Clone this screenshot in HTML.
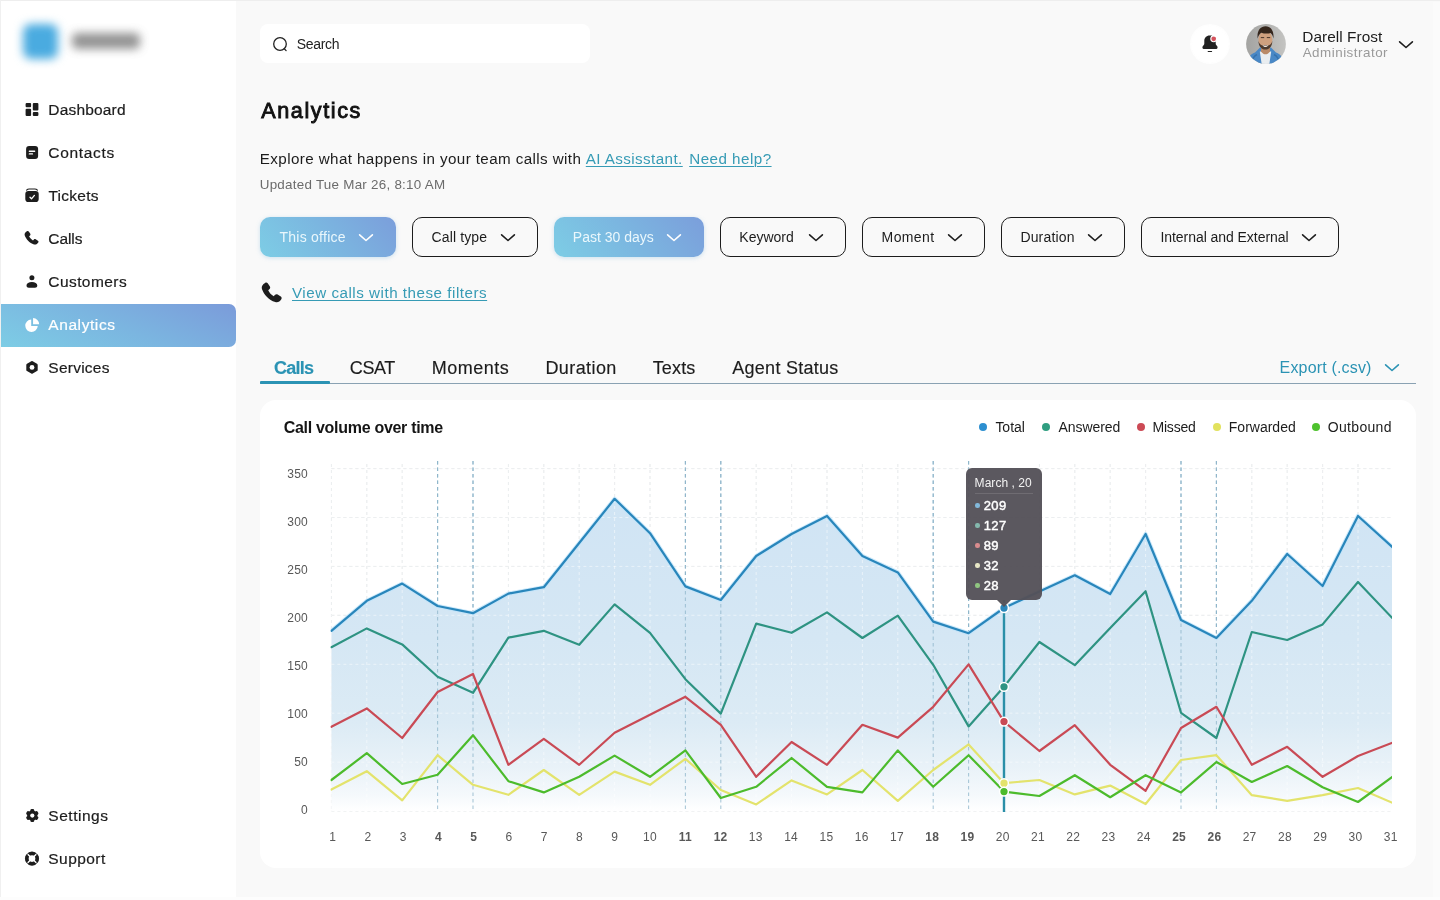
<!DOCTYPE html>
<html>
<head>
<meta charset="utf-8">
<style>
*{box-sizing:border-box;margin:0;padding:0}
html,body{width:1440px;height:900px;overflow:hidden}
body{background:#f9f9f9;font-family:"Liberation Sans",sans-serif;color:#1b1b1b;position:relative}
#root{position:absolute;left:0;top:0;width:1440px;height:900px;will-change:transform}
.abs{position:absolute;white-space:nowrap}
.sidebar{position:absolute;left:0;top:0;width:236px;height:900px;background:#fff}
.nav{position:absolute;left:0;width:236px;height:43px}
.nav .ic{position:absolute;left:23px;top:13px;width:17px;height:17px}
.nav .tx{-webkit-text-stroke:.2px currentColor;position:absolute;left:48px;top:12px;font-size:15.5px;line-height:20px;color:#1c1c1c;white-space:nowrap}
.nav.active{background:linear-gradient(22deg,#7dcde5 0%,#7bb5e0 50%,#7b9bda 100%);border-radius:0 7px 7px 0}
.nav.active .tx{color:#fff;top:11px}.nav.active .ic{top:12px}
.search{position:absolute;left:260px;top:24px;width:330px;height:39px;background:#fff;border-radius:8px}
.search .tx{position:absolute;left:36.5px;top:11.5px;font-size:14px;line-height:17px;color:#222}
.btn{position:absolute;top:217px;height:40px;border-radius:10px;border:1.6px solid #1d1d1d;font-size:14px;line-height:17px;color:#1c1c1c;white-space:nowrap}
.btn .tx{position:absolute;left:18.7px;top:11px}
.btn svg{position:absolute;right:20.8px;top:14px}
.btn.fill{border:none;background:linear-gradient(50deg,#7dcde5 0%,#7bb6e0 50%,#7b9edb 100%);color:#eaf7fc;box-shadow:0 1px 4px rgba(120,180,220,.35)}
.btn.fill .tx{left:20px;top:11.5px}.btn.fill svg{right:22.4px;top:15.3px}
a.lk{color:#369bb5;text-decoration:underline;text-decoration-thickness:1.2px;text-underline-offset:2px}
.tab{-webkit-text-stroke:.15px currentColor;position:absolute;top:357px;font-size:18px;line-height:22px;color:#1c1c1c;white-space:nowrap}
.card{position:absolute;left:260px;top:400px;width:1156px;height:468px;background:#fff;border-radius:16px}
.chart{position:absolute;left:0;top:0}
.ax{font-family:"Liberation Sans",sans-serif;font-size:12px;fill:#585858;letter-spacing:.25px}
.lg{position:absolute;top:419px;font-size:14px;line-height:17px;color:#1c1c1c;white-space:nowrap}
.dot{position:absolute;top:423px;width:8px;height:8px;border-radius:50%}
.tip{position:absolute;left:965.6px;top:468px;width:76.8px;height:131.5px;background:rgba(84,81,88,.96);border-radius:6px;color:#fff}
.tip .t{position:absolute;left:9.4px;top:8.2px;font-size:12px;line-height:14px;color:#f3f3f3;white-space:nowrap}
.tip .sep{position:absolute;left:9.5px;right:9.5px;top:24.6px;height:1px;background:rgba(255,255,255,.12)}
.tip .v{position:absolute;left:18.2px;font-size:13px;line-height:15px;font-weight:400;-webkit-text-stroke:.45px #fff;color:#fff;letter-spacing:.35px}
.tip .d{position:absolute;left:9.6px;width:4.4px;height:4.4px;border-radius:50%}
.tip:after{content:"";position:absolute;left:31.4px;top:131.5px;border-left:7px solid transparent;border-right:7px solid transparent;border-top:7px solid rgba(84,81,88,.96)}
#nDashboard{letter-spacing:0.175px;margin-left:0.3px}
#nContacts{letter-spacing:0.673px;margin-left:0.3px}
#nTickets{letter-spacing:0.282px;margin-left:0.4px}
#nCalls{letter-spacing:-0.075px;margin-left:0.3px}
#nCustomers{letter-spacing:0.425px;margin-left:0.3px}
#nAnalytics{letter-spacing:0.583px;margin-left:0.3px}
#nServices{letter-spacing:0.244px;margin-left:0.3px}
#nSettings{letter-spacing:0.53px;margin-left:0.3px}
#nSupport{letter-spacing:0.45px;margin-left:0.3px}
#tSearch{letter-spacing:-0.32px;margin-left:0.3px}
#tName{letter-spacing:0.039px;margin-left:0.3px}
#tAdmin{letter-spacing:0.5px;margin-left:0.7px}
#tH{letter-spacing:1.602px;margin-left:1.2px}
#tExp{letter-spacing:0.4px;margin-left:-0.2px}
#tAI{letter-spacing:0.414px;margin-left:0.4px}
#tHelp{letter-spacing:0.466px;margin-left:-0.4px}
#tUpd{letter-spacing:0.259px;margin-left:-0.3px}
#b0{letter-spacing:0.25px;margin-left:-0.5px}
#b1{letter-spacing:0.125px;margin-left:-0.1px}
#b2{letter-spacing:-0.001px;margin-left:-1.2px}
#b3{letter-spacing:0.001px;margin-left:-0.4px}
#b4{letter-spacing:0.38px;margin-left:-0.1px}
#b5{letter-spacing:0.16px;margin-left:-0.3px}
#b6{letter-spacing:-0.05px;margin-left:-0.3px}
#tView{letter-spacing:0.509px;margin-left:0.0px}
#tab0{letter-spacing:-0.75px;margin-left:0.0px}
#tab1{letter-spacing:-0.4px;margin-left:-0.2px}
#tab2{letter-spacing:0.501px;margin-left:-1.3px}
#tab3{letter-spacing:0.412px;margin-left:-0.6px}
#tab4{letter-spacing:0.15px;margin-left:0.7px}
#tab5{letter-spacing:0.263px;margin-left:1.3px}
#tExport{letter-spacing:0.167px;margin-left:-0.4px}
#tCard{letter-spacing:-0.295px;margin-left:-0.3px}
#lg0{letter-spacing:-0.025px;margin-left:0.4px}
#lg1{letter-spacing:-0.071px;margin-left:0.6px}
#lg2{letter-spacing:-0.2px;margin-left:-0.5px}
#lg3{letter-spacing:0.0px;margin-left:-0.2px}
#lg4{letter-spacing:0.311px;margin-left:-0.2px}
#tTip{letter-spacing:0.042px;margin-left:-0.4px}

</style>
</head>
<body>
<div id="root">
<div class="sidebar">
  <!-- blurred logo -->
  <div class="abs" style="left:23px;top:23.5px;width:35px;height:35px;border-radius:8px;background:#4aabe0;filter:blur(4.6px)"></div>
  <div class="abs" style="left:72px;top:33px;width:68px;height:16px;border-radius:5px;background:#787878;filter:blur(5px);opacity:.8"></div>

  <div class="nav" style="top:88px"><svg class="ic" viewBox="0 0 17 17"><g fill="#1d1d1d"><rect x="2.600" y="2.100" width="5.500" height="4.100" rx="1"/><rect x="2.600" y="7.700" width="5.500" height="7.300" rx="1"/><rect x="9.800" y="2.100" width="5.600" height="7.500" rx="1"/><rect x="9.800" y="11" width="5.600" height="4" rx="1"/></g></svg><div class="tx" id="nDashboard">Dashboard</div></div>
  <div class="nav" style="top:131px"><svg class="ic" viewBox="0 0 17 17"><rect x="3.100" y="2" width="12" height="13" rx="3" fill="#1d1d1d"/><rect x="5.700" y="6.600" width="6.600" height="1.300" rx=".6" fill="#fff"/><rect x="5.700" y="9.300" width="4.400" height="1.300" rx=".6" fill="#fff"/></svg><div class="tx" id="nContacts">Contacts</div></div>
  <div class="nav" style="top:174px"><svg class="ic" viewBox="0 0 17 17"><path d="M3.600 3.100c.700-.800 1.600-1.100 2.600-1.100h5.600c1 0 1.900.300 2.600 1.100" fill="none" stroke="#1d1d1d" stroke-width="1.100" stroke-linecap="round"/><rect x="2.300" y="4" width="13.400" height="11" rx="3.100" fill="#1d1d1d"/><path d="M7 10.200l1.500 1.600 2.900-3.400" stroke="#fff" stroke-width="1.300" fill="none" stroke-linecap="round" stroke-linejoin="round"/></svg><div class="tx" id="nTickets">Tickets</div></div>
  <div class="nav" style="top:217px"><svg class="ic" viewBox="0 0 17 17"><g transform="translate(8.700 8.300) scale(1.170) translate(-8.300 -8.300)"><path d="M4.200 2.300c.500-.400 1.200-.300 1.600.200l1.300 1.900c.300.500.200 1.100-.200 1.500l-.800.700c.700 1.500 1.800 2.700 3.300 3.500l.800-.800c.400-.400 1-.500 1.500-.200l1.900 1.200c.500.300.700 1 .300 1.600-.800 1.300-2.200 2.100-3.600 1.600C6.400 12.300 3.400 9 2.300 5.700c-.400-1.400.600-2.700 1.900-3.400z" fill="#1d1d1d"/></g></svg><div class="tx" id="nCalls">Calls</div></div>
  <div class="nav" style="top:260px"><svg class="ic" viewBox="0 0 17 17"><circle cx="8.900" cy="4.800" r="2.500" fill="#1d1d1d"/><path d="M3.500 12.400c0-2.200 2.300-3.500 5.400-3.500s5.400 1.300 5.400 3.500c0 1.300-1 2.300-2.300 2.300H5.800c-1.300 0-2.300-1-2.300-2.300z" fill="#1d1d1d"/></svg><div class="tx" id="nCustomers">Customers</div></div>
  <div class="nav active" style="top:304px"><svg class="ic" viewBox="0 0 17 17"><g transform="translate(.4 .2) scale(1.040)"><path d="M7.500 3.200A6 6 0 1 0 13.800 9.500H7.500z" fill="#fff"/><path d="M9.300 1.800a6 6 0 0 1 5.900 5.900H9.300z" fill="#fff"/></g></svg><div class="tx" id="nAnalytics">Analytics</div></div>
  <div class="nav" style="top:346px"><svg class="ic" viewBox="0 0 17 17"><path d="M9 3.400l4.300 2.500v5l-4.300 2.500-4.300-2.500v-5z" fill="#1d1d1d" stroke="#1d1d1d" stroke-width="2.800" stroke-linejoin="round"/><circle cx="9" cy="8.400" r="2.400" fill="#fff"/></svg><div class="tx" id="nServices">Services</div></div>

  <div class="nav" style="top:794px"><svg class="ic" viewBox="0 0 17 17"><g transform="translate(9.300 8.600)" fill="#1d1d1d"><circle r="5.100"/><rect x="-1.900" y="-6.500" width="3.800" height="13" rx="1.300" transform="rotate(0)"/><rect x="-1.900" y="-6.500" width="3.800" height="13" rx="1.300" transform="rotate(60)"/><rect x="-1.900" y="-6.500" width="3.800" height="13" rx="1.300" transform="rotate(120)"/><circle r="2.100" fill="#fff"/></g></svg><div class="tx" id="nSettings">Settings</div></div>
  <div class="nav" style="top:837px"><svg class="ic" viewBox="0 0 17 17"><g transform="translate(9 8.600)"><circle r="6.900" fill="#1d1d1d"/><g stroke="#fff" stroke-width="1.400"><path d="M-5.500-5.500L5.500 5.500M5.500-5.500L-5.500 5.500"/></g><circle r="3.300" fill="#fff"/><circle r="6.550" fill="none" stroke="#1d1d1d" stroke-width=".8"/></g></svg><div class="tx" id="nSupport">Support</div></div>
</div>

<div class="abs" style="left:0;top:0;width:1440px;height:1px;background:#eeeeee"></div>
<div class="abs" style="left:0;top:0;width:1px;height:900px;background:#f0f0f0"></div>
<div class="abs" style="left:1433px;top:2px;width:7px;height:898px;background:#fbfbfb"></div>
<div class="abs" style="left:0;top:897px;width:1440px;height:3px;background:#fdfdfd"></div>
<!-- top bar -->
<div class="search"><svg class="abs" style="left:12px;top:12px" width="17" height="17" viewBox="0 0 17 17"><circle cx="8" cy="8" r="6.300" fill="none" stroke="#222" stroke-width="1.300"/><path d="M12.300 12.800l1.800 1.800" stroke="#222" stroke-width="1.300" stroke-linecap="round"/></svg><div class="tx" id="tSearch">Search</div></div>

<div class="abs" style="left:1190px;top:24px;width:40px;height:40px;border-radius:50%;background:radial-gradient(circle,#fff 0,#fff 60%,rgba(255,255,255,0) 100%)"></div>
<svg class="abs" style="left:1200px;top:33px" width="20" height="20" viewBox="0 0 20 20"><path d="M9.600 2.600c-3.200 0-5.300 2.400-5.300 5.500v2.500c0 .9-.5 1.700-1.300 2.300-1.100.8-.6 3.100.8 3.100h12.400c1.400 0 1.900-2.300.8-3.100-.8-.6-1.300-1.400-1.300-2.300V8.100c0-3.100-2.100-5.500-5.300-5.500z" fill="#222"/><path d="M8.200 18.500h3.400" stroke="#222" stroke-width="1.100" stroke-linecap="round"/><circle cx="13.700" cy="5.800" r="2.900" fill="#d4525c" stroke="#fff" stroke-width="1.100"/></svg>

<!-- avatar -->
<svg class="abs" style="left:1246px;top:24px" width="40" height="40" viewBox="0 0 40 40"><defs><clipPath id="av"><circle cx="20" cy="20" r="19.900"/></clipPath><linearGradient id="avb" x1="0" y1="0" x2="1" y2="0"><stop offset="0" stop-color="#a3a3a1"/><stop offset=".55" stop-color="#b4b4b2"/><stop offset="1" stop-color="#c4c4c2"/></linearGradient><filter id="avf" x="-10%" y="-10%" width="120%" height="120%"><feGaussianBlur stdDeviation=".55"/></filter></defs><g clip-path="url(#av)"><rect width="40" height="40" fill="url(#avb)"/><g filter="url(#avf)"><path d="M1 41c0-7 3-10.500 8-12.500l5-5h11l5 5c5 2 8 5.500 8 12.500z" fill="#4a88c6"/><path d="M5 40c1-5 3-8 6-9.500M34 40c-1-5-3-8-6-9.500" stroke="#3672ad" stroke-width="1.500" fill="none"/><path d="M13.800 27.500l2 13.500h7.400l2-13.500z" fill="#e9edf0"/><path d="M15 21h9v6.500c-1.500 2-3 2.800-4.500 2.800S16.500 29.500 15 27.500z" fill="#b98a68"/><ellipse cx="19.400" cy="15.600" rx="7" ry="8.800" fill="#cfa07e"/><path d="M12.400 17c.300 5.500 3 8.600 7 8.600s6.700-3.100 7-8.600c-1 3-2.500 4.200-4 4.500-2-.6-4-.6-6 0-1.500-.3-3-1.500-4-4.500z" fill="#4f3a2d"/><path d="M16.600 20.900c1.800.8 3.800.8 5.600 0-.5 1.500-1.600 2.100-2.800 2.100s-2.300-.6-2.800-2.100z" fill="#efe6df"/><path d="M11.600 14.500C10.800 6.500 14.500 2.300 19.600 2.300s8.600 4.200 7.800 12.200c-.6-3-1.500-4.600-2.800-5.600-2.200.9-6 .9-9.400-.2-1.600 1-2.800 2.800-3.600 5.800z" fill="#35271f"/><path d="M14.800 13.600h3.400M20.800 13.600h3.400" stroke="#3a2a20" stroke-width=".9"/></g></g></svg>

<div class="abs" id="tName" style="left:1302px;top:26.6px;font-size:15.4px;line-height:19px;color:#1c1c1c">Darell Frost</div>
<div class="abs" id="tAdmin" style="left:1302px;top:43.7px;font-size:13.4px;line-height:17px;color:#9a9a9a">Administrator</div>
<svg class="abs" style="left:1398px;top:38.6px" width="16" height="12" viewBox="0 0 16 12"><path d="M1.600 2.800L8 8.500l6.400-5.700" fill="none" stroke="#1d1d1d" stroke-width="1.600" stroke-linecap="round" stroke-linejoin="round"/></svg>

<!-- heading -->
<div class="abs" id="tH" style="left:260px;top:96.4px;font-size:21.6px;line-height:30px;font-weight:400;-webkit-text-stroke:.9px #111;color:#111">Analytics</div>
<div class="abs" id="tExp" style="font-size:15.2px;margin-top:-.8px;left:260px;top:149.5px;line-height:20px;color:#1c1c1c">Explore what happens in your team calls with</div><div class="abs" id="tAI" style="font-size:15.2px;margin-top:-.8px;left:585.4px;top:149.5px;line-height:20px"><a class="lk">AI Assisstant.</a></div><div class="abs" id="tHelp" style="font-size:15.2px;margin-top:-.8px;left:689.6px;top:149.5px;line-height:20px"><a class="lk">Need help?</a></div>
<div class="abs" id="tUpd" style="left:260px;top:176px;font-size:13.4px;line-height:17px;color:#6b6b6b">Updated Tue Mar 26, 8:10 AM</div>

<!-- filters -->
<div class="btn fill" style="left:260px;width:136px"><div class="tx" id="b0">This office</div><svg width="16" height="12" viewBox="0 0 16 12"><path d="M1.600 2.800L8 8.500l6.400-5.700" fill="none" stroke="#fff" stroke-width="1.600" stroke-linecap="round" stroke-linejoin="round"/></svg></div>
<div class="btn" style="left:412px;width:126px"><div class="tx" id="b1">Call type</div><svg width="16" height="12" viewBox="0 0 16 12"><path d="M1.600 2.800L8 8.500l6.400-5.700" fill="none" stroke="#1d1d1d" stroke-width="1.600" stroke-linecap="round" stroke-linejoin="round"/></svg></div>
<div class="btn fill" style="left:554px;width:150px"><div class="tx" id="b2">Past 30 days</div><svg width="16" height="12" viewBox="0 0 16 12"><path d="M1.600 2.800L8 8.500l6.400-5.700" fill="none" stroke="#fff" stroke-width="1.600" stroke-linecap="round" stroke-linejoin="round"/></svg></div>
<div class="btn" style="left:720px;width:126px"><div class="tx" id="b3">Keyword</div><svg width="16" height="12" viewBox="0 0 16 12"><path d="M1.600 2.800L8 8.500l6.400-5.700" fill="none" stroke="#1d1d1d" stroke-width="1.600" stroke-linecap="round" stroke-linejoin="round"/></svg></div>
<div class="btn" style="left:862px;width:123px"><div class="tx" id="b4">Moment</div><svg width="16" height="12" viewBox="0 0 16 12"><path d="M1.600 2.800L8 8.500l6.400-5.700" fill="none" stroke="#1d1d1d" stroke-width="1.600" stroke-linecap="round" stroke-linejoin="round"/></svg></div>
<div class="btn" style="left:1001px;width:124px"><div class="tx" id="b5">Duration</div><svg width="16" height="12" viewBox="0 0 16 12"><path d="M1.600 2.800L8 8.500l6.400-5.700" fill="none" stroke="#1d1d1d" stroke-width="1.600" stroke-linecap="round" stroke-linejoin="round"/></svg></div>
<div class="btn" style="left:1141px;width:198px"><div class="tx" id="b6">Internal and External</div><svg width="16" height="12" viewBox="0 0 16 12"><path d="M1.600 2.800L8 8.500l6.400-5.700" fill="none" stroke="#1d1d1d" stroke-width="1.600" stroke-linecap="round" stroke-linejoin="round"/></svg></div>

<!-- view calls -->
<svg class="abs" style="left:258.4px;top:278.8px" width="28.5" height="29" viewBox="0 0 17 17" preserveAspectRatio="none"><path d="M4.200 2.300c.500-.400 1.200-.300 1.600.200l1.300 1.900c.300.500.200 1.100-.200 1.500l-.800.700c.700 1.500 1.800 2.700 3.300 3.500l.800-.800c.400-.400 1-.500 1.500-.200l1.900 1.200c.500.300.700 1 .300 1.600-.800 1.300-2.200 2.100-3.600 1.600C6.400 12.300 3.400 9 2.300 5.700c-.400-1.400.600-2.700 1.900-3.400z" fill="#1d1d1d"/></svg>
<div class="abs" id="tView" style="left:292px;top:283.3px;font-size:15.2px;line-height:20px"><a class="lk">View calls with these filters</a></div>

<!-- tabs -->
<div class="tab" id="tab0" style="left:274px;font-weight:700;color:#2b93b4">Calls</div>
<div class="tab" id="tab1" style="left:350px">CSAT</div>
<div class="tab" id="tab2" style="left:433px">Moments</div>
<div class="tab" id="tab3" style="left:546px">Duration</div>
<div class="tab" id="tab4" style="left:652px">Texts</div>
<div class="tab" id="tab5" style="left:731px">Agent Status</div>
<div class="abs" style="left:260px;top:383px;width:1156px;height:1px;background:#8aa2b3"></div>
<div class="abs" style="left:260px;top:380.5px;width:70px;height:3.5px;background:#2b93b4;border-radius:1px"></div>
<div class="abs" id="tExport" style="left:1280px;top:358px;font-size:16px;line-height:20px;color:#2b93b4">Export (.csv)</div>
<svg class="abs" style="left:1384px;top:362px" width="16" height="12" viewBox="0 0 16 12"><path d="M1.600 2.800L8 8.500l6.400-5.700" fill="none" stroke="#2b93b4" stroke-width="1.600" stroke-linecap="round" stroke-linejoin="round"/></svg>

<!-- card -->
<div class="card"></div>
<div class="abs" id="tCard" style="left:284px;top:418px;font-size:16px;line-height:20px;font-weight:700;color:#151515">Call volume over time</div>

<div class="dot" style="left:979px;background:#2d8fd0"></div><div class="lg" id="lg0" style="left:995px">Total</div>
<div class="dot" style="left:1042px;background:#2f9e80"></div><div class="lg" id="lg1" style="left:1058px">Answered</div>
<div class="dot" style="left:1137px;background:#cc4a55"></div><div class="lg" id="lg2" style="left:1153px">Missed</div>
<div class="dot" style="left:1213px;background:#e2e25e"></div><div class="lg" id="lg3" style="left:1229px">Forwarded</div>
<div class="dot" style="left:1312px;background:#4ec22e"></div><div class="lg" id="lg4" style="left:1328px">Outbound</div>

<svg class="chart" width="1440" height="900" viewBox="0 0 1440 900">
<defs><linearGradient id="ag" x1="0" y1="0" x2="0" y2="1" gradientUnits="userSpaceOnUse" gradientTransform="translate(0,498) scale(1,313)"><stop offset="0" stop-color="#d0e4f4"/><stop offset="0.45" stop-color="#d5e7f4"/><stop offset="0.72" stop-color="#dcebf5"/><stop offset="0.86" stop-color="#e9f2f8"/><stop offset="0.95" stop-color="#f5f9fc"/><stop offset="1" stop-color="#ffffff"/></linearGradient></defs>
<clipPath id="cp"><rect x="330.4" y="455" width="1061.6" height="360"/></clipPath>
<g clip-path="url(#cp)">
<line x1="331.4" x2="1392" y1="468.6" y2="468.6" stroke="#d4d9dc" stroke-width="1" stroke-dasharray="3 3" opacity="0.85"/>
<line x1="331.4" x2="1392" y1="517.5" y2="517.5" stroke="#d4d9dc" stroke-width="1" stroke-dasharray="3 3" opacity="0.85"/>
<line x1="331.4" x2="1392" y1="566.4" y2="566.4" stroke="#d4d9dc" stroke-width="1" stroke-dasharray="3 3" opacity="0.85"/>
<line x1="331.4" x2="1392" y1="615.3" y2="615.3" stroke="#d4d9dc" stroke-width="1" stroke-dasharray="3 3" opacity="0.85"/>
<line x1="331.4" x2="1392" y1="664.3" y2="664.3" stroke="#d4d9dc" stroke-width="1" stroke-dasharray="3 3" opacity="0.85"/>
<line x1="331.4" x2="1392" y1="713.2" y2="713.2" stroke="#d4d9dc" stroke-width="1" stroke-dasharray="3 3" opacity="0.85"/>
<line x1="331.4" x2="1392" y1="762.1" y2="762.1" stroke="#d4d9dc" stroke-width="1" stroke-dasharray="3 3" opacity="0.85"/>
<line x1="331.4" x2="1392" y1="811.0" y2="811.0" stroke="#d4d9dc" stroke-width="1" stroke-dasharray="3 3" opacity="0.85"/>
<line x1="331.4" x2="331.4" y1="464" y2="811" stroke="#d4d9dc" stroke-width="1" stroke-dasharray="3 3" opacity="0.85"/>
<line x1="366.8" x2="366.8" y1="464" y2="811" stroke="#d4d9dc" stroke-width="1" stroke-dasharray="3 3" opacity="0.85"/>
<line x1="402.2" x2="402.2" y1="464" y2="811" stroke="#d4d9dc" stroke-width="1" stroke-dasharray="3 3" opacity="0.85"/>
<line x1="437.6" x2="437.6" y1="461" y2="812" stroke="#8fb6cb" stroke-width="1.1" stroke-dasharray="3.5 3" opacity="1"/>
<line x1="473.0" x2="473.0" y1="461" y2="812" stroke="#8fb6cb" stroke-width="1.1" stroke-dasharray="3.5 3" opacity="1"/>
<line x1="508.4" x2="508.4" y1="464" y2="811" stroke="#d4d9dc" stroke-width="1" stroke-dasharray="3 3" opacity="0.85"/>
<line x1="543.8" x2="543.8" y1="464" y2="811" stroke="#d4d9dc" stroke-width="1" stroke-dasharray="3 3" opacity="0.85"/>
<line x1="579.2" x2="579.2" y1="464" y2="811" stroke="#d4d9dc" stroke-width="1" stroke-dasharray="3 3" opacity="0.85"/>
<line x1="614.6" x2="614.6" y1="464" y2="811" stroke="#d4d9dc" stroke-width="1" stroke-dasharray="3 3" opacity="0.85"/>
<line x1="650.0" x2="650.0" y1="464" y2="811" stroke="#d4d9dc" stroke-width="1" stroke-dasharray="3 3" opacity="0.85"/>
<line x1="685.4" x2="685.4" y1="461" y2="812" stroke="#8fb6cb" stroke-width="1.1" stroke-dasharray="3.5 3" opacity="1"/>
<line x1="720.8" x2="720.8" y1="461" y2="812" stroke="#8fb6cb" stroke-width="1.1" stroke-dasharray="3.5 3" opacity="1"/>
<line x1="756.2" x2="756.2" y1="464" y2="811" stroke="#d4d9dc" stroke-width="1" stroke-dasharray="3 3" opacity="0.85"/>
<line x1="791.6" x2="791.6" y1="464" y2="811" stroke="#d4d9dc" stroke-width="1" stroke-dasharray="3 3" opacity="0.85"/>
<line x1="827.0" x2="827.0" y1="464" y2="811" stroke="#d4d9dc" stroke-width="1" stroke-dasharray="3 3" opacity="0.85"/>
<line x1="862.4" x2="862.4" y1="464" y2="811" stroke="#d4d9dc" stroke-width="1" stroke-dasharray="3 3" opacity="0.85"/>
<line x1="897.8" x2="897.8" y1="464" y2="811" stroke="#d4d9dc" stroke-width="1" stroke-dasharray="3 3" opacity="0.85"/>
<line x1="933.2" x2="933.2" y1="461" y2="812" stroke="#8fb6cb" stroke-width="1.1" stroke-dasharray="3.5 3" opacity="1"/>
<line x1="968.6" x2="968.6" y1="461" y2="812" stroke="#8fb6cb" stroke-width="1.1" stroke-dasharray="3.5 3" opacity="1"/>
<line x1="1039.4" x2="1039.4" y1="464" y2="811" stroke="#d4d9dc" stroke-width="1" stroke-dasharray="3 3" opacity="0.85"/>
<line x1="1074.8" x2="1074.8" y1="464" y2="811" stroke="#d4d9dc" stroke-width="1" stroke-dasharray="3 3" opacity="0.85"/>
<line x1="1110.2" x2="1110.2" y1="464" y2="811" stroke="#d4d9dc" stroke-width="1" stroke-dasharray="3 3" opacity="0.85"/>
<line x1="1145.6" x2="1145.6" y1="464" y2="811" stroke="#d4d9dc" stroke-width="1" stroke-dasharray="3 3" opacity="0.85"/>
<line x1="1181.0" x2="1181.0" y1="461" y2="812" stroke="#8fb6cb" stroke-width="1.1" stroke-dasharray="3.5 3" opacity="1"/>
<line x1="1216.4" x2="1216.4" y1="461" y2="812" stroke="#8fb6cb" stroke-width="1.1" stroke-dasharray="3.5 3" opacity="1"/>
<line x1="1251.8" x2="1251.8" y1="464" y2="811" stroke="#d4d9dc" stroke-width="1" stroke-dasharray="3 3" opacity="0.85"/>
<line x1="1287.2" x2="1287.2" y1="464" y2="811" stroke="#d4d9dc" stroke-width="1" stroke-dasharray="3 3" opacity="0.85"/>
<line x1="1322.6" x2="1322.6" y1="464" y2="811" stroke="#d4d9dc" stroke-width="1" stroke-dasharray="3 3" opacity="0.85"/>
<line x1="1358.0" x2="1358.0" y1="464" y2="811" stroke="#d4d9dc" stroke-width="1" stroke-dasharray="3 3" opacity="0.85"/>
<line x1="1393.4" x2="1393.4" y1="464" y2="811" stroke="#d4d9dc" stroke-width="1" stroke-dasharray="3 3" opacity="0.85"/>
<path d="M331.4,811.0 L331.4,630.8 L366.8,600.8 L402.2,583.6 L437.6,606.0 L473.0,613.2 L508.4,593.6 L543.8,587.2 L579.2,543.0 L614.6,498.8 L650.0,533.2 L685.4,586.4 L720.8,600.0 L756.2,556.0 L791.6,534.0 L827.0,516.0 L862.4,556.0 L897.8,572.4 L933.2,621.6 L968.6,633.2 L1004.0,608.0 L1039.4,591.5 L1074.8,575.3 L1110.2,594.0 L1145.6,534.0 L1181.0,620.0 L1216.4,638.0 L1251.8,600.8 L1287.2,554.0 L1322.6,586.0 L1358.0,516.0 L1393.4,548.0 L1393.4,811.0 Z" fill="url(#ag)"/>
<line x1="331.4" x2="1392" y1="468.6" y2="468.6" stroke="#ffffff" stroke-width="1" stroke-dasharray="3 3" opacity="0.5"/>
<line x1="331.4" x2="1392" y1="517.5" y2="517.5" stroke="#ffffff" stroke-width="1" stroke-dasharray="3 3" opacity="0.5"/>
<line x1="331.4" x2="1392" y1="566.4" y2="566.4" stroke="#ffffff" stroke-width="1" stroke-dasharray="3 3" opacity="0.5"/>
<line x1="331.4" x2="1392" y1="615.3" y2="615.3" stroke="#ffffff" stroke-width="1" stroke-dasharray="3 3" opacity="0.5"/>
<line x1="331.4" x2="1392" y1="664.3" y2="664.3" stroke="#ffffff" stroke-width="1" stroke-dasharray="3 3" opacity="0.5"/>
<line x1="331.4" x2="1392" y1="713.2" y2="713.2" stroke="#ffffff" stroke-width="1" stroke-dasharray="3 3" opacity="0.5"/>
<line x1="331.4" x2="1392" y1="762.1" y2="762.1" stroke="#ffffff" stroke-width="1" stroke-dasharray="3 3" opacity="0.5"/>
<line x1="331.4" x2="1392" y1="811.0" y2="811.0" stroke="#ffffff" stroke-width="1" stroke-dasharray="3 3" opacity="0.5"/>
<line x1="331.4" x2="331.4" y1="464" y2="811" stroke="#ffffff" stroke-width="1" stroke-dasharray="3 3" opacity="0.5"/>
<line x1="366.8" x2="366.8" y1="464" y2="811" stroke="#ffffff" stroke-width="1" stroke-dasharray="3 3" opacity="0.5"/>
<line x1="402.2" x2="402.2" y1="464" y2="811" stroke="#ffffff" stroke-width="1" stroke-dasharray="3 3" opacity="0.5"/>
<line x1="437.6" x2="437.6" y1="461" y2="812" stroke="#8fb6cb" stroke-width="1.1" stroke-dasharray="3.5 3" opacity="0.75"/>
<line x1="473.0" x2="473.0" y1="461" y2="812" stroke="#8fb6cb" stroke-width="1.1" stroke-dasharray="3.5 3" opacity="0.75"/>
<line x1="508.4" x2="508.4" y1="464" y2="811" stroke="#ffffff" stroke-width="1" stroke-dasharray="3 3" opacity="0.5"/>
<line x1="543.8" x2="543.8" y1="464" y2="811" stroke="#ffffff" stroke-width="1" stroke-dasharray="3 3" opacity="0.5"/>
<line x1="579.2" x2="579.2" y1="464" y2="811" stroke="#ffffff" stroke-width="1" stroke-dasharray="3 3" opacity="0.5"/>
<line x1="614.6" x2="614.6" y1="464" y2="811" stroke="#ffffff" stroke-width="1" stroke-dasharray="3 3" opacity="0.5"/>
<line x1="650.0" x2="650.0" y1="464" y2="811" stroke="#ffffff" stroke-width="1" stroke-dasharray="3 3" opacity="0.5"/>
<line x1="685.4" x2="685.4" y1="461" y2="812" stroke="#8fb6cb" stroke-width="1.1" stroke-dasharray="3.5 3" opacity="0.75"/>
<line x1="720.8" x2="720.8" y1="461" y2="812" stroke="#8fb6cb" stroke-width="1.1" stroke-dasharray="3.5 3" opacity="0.75"/>
<line x1="756.2" x2="756.2" y1="464" y2="811" stroke="#ffffff" stroke-width="1" stroke-dasharray="3 3" opacity="0.5"/>
<line x1="791.6" x2="791.6" y1="464" y2="811" stroke="#ffffff" stroke-width="1" stroke-dasharray="3 3" opacity="0.5"/>
<line x1="827.0" x2="827.0" y1="464" y2="811" stroke="#ffffff" stroke-width="1" stroke-dasharray="3 3" opacity="0.5"/>
<line x1="862.4" x2="862.4" y1="464" y2="811" stroke="#ffffff" stroke-width="1" stroke-dasharray="3 3" opacity="0.5"/>
<line x1="897.8" x2="897.8" y1="464" y2="811" stroke="#ffffff" stroke-width="1" stroke-dasharray="3 3" opacity="0.5"/>
<line x1="933.2" x2="933.2" y1="461" y2="812" stroke="#8fb6cb" stroke-width="1.1" stroke-dasharray="3.5 3" opacity="0.75"/>
<line x1="968.6" x2="968.6" y1="461" y2="812" stroke="#8fb6cb" stroke-width="1.1" stroke-dasharray="3.5 3" opacity="0.75"/>
<line x1="1039.4" x2="1039.4" y1="464" y2="811" stroke="#ffffff" stroke-width="1" stroke-dasharray="3 3" opacity="0.5"/>
<line x1="1074.8" x2="1074.8" y1="464" y2="811" stroke="#ffffff" stroke-width="1" stroke-dasharray="3 3" opacity="0.5"/>
<line x1="1110.2" x2="1110.2" y1="464" y2="811" stroke="#ffffff" stroke-width="1" stroke-dasharray="3 3" opacity="0.5"/>
<line x1="1145.6" x2="1145.6" y1="464" y2="811" stroke="#ffffff" stroke-width="1" stroke-dasharray="3 3" opacity="0.5"/>
<line x1="1181.0" x2="1181.0" y1="461" y2="812" stroke="#8fb6cb" stroke-width="1.1" stroke-dasharray="3.5 3" opacity="0.75"/>
<line x1="1216.4" x2="1216.4" y1="461" y2="812" stroke="#8fb6cb" stroke-width="1.1" stroke-dasharray="3.5 3" opacity="0.75"/>
<line x1="1251.8" x2="1251.8" y1="464" y2="811" stroke="#ffffff" stroke-width="1" stroke-dasharray="3 3" opacity="0.5"/>
<line x1="1287.2" x2="1287.2" y1="464" y2="811" stroke="#ffffff" stroke-width="1" stroke-dasharray="3 3" opacity="0.5"/>
<line x1="1322.6" x2="1322.6" y1="464" y2="811" stroke="#ffffff" stroke-width="1" stroke-dasharray="3 3" opacity="0.5"/>
<line x1="1358.0" x2="1358.0" y1="464" y2="811" stroke="#ffffff" stroke-width="1" stroke-dasharray="3 3" opacity="0.5"/>
<line x1="1393.4" x2="1393.4" y1="464" y2="811" stroke="#ffffff" stroke-width="1" stroke-dasharray="3 3" opacity="0.5"/>
<line x1="1004.0" x2="1004.0" y1="600" y2="812" stroke="#2a8fa8" stroke-width="2.4"/>
<polyline points="331.4,630.8 366.8,600.8 402.2,583.6 437.6,606.0 473.0,613.2 508.4,593.6 543.8,587.2 579.2,543.0 614.6,498.8 650.0,533.2 685.4,586.4 720.8,600.0 756.2,556.0 791.6,534.0 827.0,516.0 862.4,556.0 897.8,572.4 933.2,621.6 968.6,633.2 1004.0,608.0 1039.4,591.5 1074.8,575.3 1110.2,594.0 1145.6,534.0 1181.0,620.0 1216.4,638.0 1251.8,600.8 1287.2,554.0 1322.6,586.0 1358.0,516.0 1393.4,548.0" fill="none" stroke="#bfe4fa" stroke-width="4.2" stroke-linejoin="round" opacity="0.8"/>
<polyline points="331.4,630.8 366.8,600.8 402.2,583.6 437.6,606.0 473.0,613.2 508.4,593.6 543.8,587.2 579.2,543.0 614.6,498.8 650.0,533.2 685.4,586.4 720.8,600.0 756.2,556.0 791.6,534.0 827.0,516.0 862.4,556.0 897.8,572.4 933.2,621.6 968.6,633.2 1004.0,608.0 1039.4,591.5 1074.8,575.3 1110.2,594.0 1145.6,534.0 1181.0,620.0 1216.4,638.0 1251.8,600.8 1287.2,554.0 1322.6,586.0 1358.0,516.0 1393.4,548.0" fill="none" stroke="#2986bb" stroke-width="2.2" stroke-linejoin="round" stroke-linecap="round"/>
<polyline points="331.4,647.2 366.8,628.4 402.2,644.4 437.6,676.8 473.0,692.8 508.4,637.6 543.8,630.8 579.2,644.8 614.6,604.4 650.0,632.8 685.4,679.2 720.8,713.6 756.2,623.6 791.6,632.8 827.0,612.4 862.4,638.0 897.8,615.6 933.2,664.8 968.6,726.4 1004.0,686.8 1039.4,642.0 1074.8,665.2 1110.2,628.0 1145.6,591.2 1181.0,712.8 1216.4,738.0 1251.8,632.0 1287.2,640.0 1322.6,624.4 1358.0,582.0 1393.4,619.2" fill="none" stroke="#2e9382" stroke-width="2.2" stroke-linejoin="round" stroke-linecap="round"/>
<polyline points="331.4,726.8 366.8,708.4 402.2,738.0 437.6,692.0 473.0,674.0 508.4,764.8 543.8,738.8 579.2,764.8 614.6,732.8 650.0,714.8 685.4,696.8 720.8,724.8 756.2,776.8 791.6,742.0 827.0,764.8 862.4,724.8 897.8,737.6 933.2,706.8 968.6,664.4 1004.0,721.6 1039.4,751.0 1074.8,725.2 1110.2,764.8 1145.6,790.8 1181.0,728.0 1216.4,706.8 1251.8,764.8 1287.2,746.8 1322.6,776.8 1358.0,756.0 1393.4,742.4" fill="none" stroke="#c94a55" stroke-width="2.2" stroke-linejoin="round" stroke-linecap="round"/>
<polyline points="331.4,789.6 366.8,771.2 402.2,800.4 437.6,755.2 473.0,784.8 508.4,794.8 543.8,770.0 579.2,794.8 614.6,771.6 650.0,784.8 685.4,758.8 720.8,790.0 756.2,804.4 791.6,780.4 827.0,794.4 862.4,770.0 897.8,800.8 933.2,770.0 968.6,744.4 1004.0,783.2 1039.4,780.0 1074.8,794.4 1110.2,785.6 1145.6,804.0 1181.0,760.0 1216.4,755.2 1251.8,795.2 1287.2,800.8 1322.6,795.2 1358.0,788.0 1393.4,803.2" fill="none" stroke="#e3e36c" stroke-width="2.2" stroke-linejoin="round" stroke-linecap="round"/>
<polyline points="331.4,780.0 366.8,753.2 402.2,784.0 437.6,774.8 473.0,735.2 508.4,781.2 543.8,792.4 579.2,776.8 614.6,755.6 650.0,776.8 685.4,750.4 720.8,798.0 756.2,786.8 791.6,758.0 827.0,786.8 862.4,792.4 897.8,750.4 933.2,786.8 968.6,755.2 1004.0,791.6 1039.4,796.0 1074.8,775.2 1110.2,797.2 1145.6,775.2 1181.0,792.4 1216.4,762.0 1251.8,782.0 1287.2,766.0 1322.6,787.2 1358.0,802.0 1393.4,776.0" fill="none" stroke="#4cbb2c" stroke-width="2.2" stroke-linejoin="round" stroke-linecap="round"/>
</g>
<circle cx="1004.0" cy="608.0" r="4.4" fill="#2986bb" stroke="#ffffff" stroke-width="1.5"/>
<circle cx="1004.0" cy="686.8" r="4.4" fill="#2e9382" stroke="#ffffff" stroke-width="1.5"/>
<circle cx="1004.0" cy="721.6" r="4.4" fill="#c94a55" stroke="#ffffff" stroke-width="1.5"/>
<circle cx="1004.0" cy="783.2" r="4.4" fill="#e3e36c" stroke="#ffffff" stroke-width="1.5"/>
<circle cx="1004.0" cy="791.6" r="4.4" fill="#4cbb2c" stroke="#ffffff" stroke-width="1.5"/>
<text x="308" y="478" text-anchor="end" class="ax">350</text>
<text x="308" y="526" text-anchor="end" class="ax">300</text>
<text x="308" y="574" text-anchor="end" class="ax">250</text>
<text x="308" y="622" text-anchor="end" class="ax">200</text>
<text x="308" y="670" text-anchor="end" class="ax">150</text>
<text x="308" y="718" text-anchor="end" class="ax">100</text>
<text x="308" y="766" text-anchor="end" class="ax">50</text>
<text x="308" y="814" text-anchor="end" class="ax">0</text>
<text x="332.6" y="841" text-anchor="middle" class="ax">1</text>
<text x="367.9" y="841" text-anchor="middle" class="ax">2</text>
<text x="403.1" y="841" text-anchor="middle" class="ax">3</text>
<text x="438.4" y="841" text-anchor="middle" class="ax" font-weight="700" fill="#383838">4</text>
<text x="473.7" y="841" text-anchor="middle" class="ax" font-weight="700" fill="#383838">5</text>
<text x="509.0" y="841" text-anchor="middle" class="ax">6</text>
<text x="544.2" y="841" text-anchor="middle" class="ax">7</text>
<text x="579.5" y="841" text-anchor="middle" class="ax">8</text>
<text x="614.8" y="841" text-anchor="middle" class="ax">9</text>
<text x="650.0" y="841" text-anchor="middle" class="ax">10</text>
<text x="685.3" y="841" text-anchor="middle" class="ax" font-weight="700" fill="#383838">11</text>
<text x="720.6" y="841" text-anchor="middle" class="ax" font-weight="700" fill="#383838">12</text>
<text x="755.8" y="841" text-anchor="middle" class="ax">13</text>
<text x="791.1" y="841" text-anchor="middle" class="ax">14</text>
<text x="826.4" y="841" text-anchor="middle" class="ax">15</text>
<text x="861.7" y="841" text-anchor="middle" class="ax">16</text>
<text x="896.9" y="841" text-anchor="middle" class="ax">17</text>
<text x="932.2" y="841" text-anchor="middle" class="ax" font-weight="700" fill="#383838">18</text>
<text x="967.5" y="841" text-anchor="middle" class="ax" font-weight="700" fill="#383838">19</text>
<text x="1002.7" y="841" text-anchor="middle" class="ax">20</text>
<text x="1038.0" y="841" text-anchor="middle" class="ax">21</text>
<text x="1073.3" y="841" text-anchor="middle" class="ax">22</text>
<text x="1108.5" y="841" text-anchor="middle" class="ax">23</text>
<text x="1143.8" y="841" text-anchor="middle" class="ax">24</text>
<text x="1179.1" y="841" text-anchor="middle" class="ax" font-weight="700" fill="#383838">25</text>
<text x="1214.4" y="841" text-anchor="middle" class="ax" font-weight="700" fill="#383838">26</text>
<text x="1249.6" y="841" text-anchor="middle" class="ax">27</text>
<text x="1284.9" y="841" text-anchor="middle" class="ax">28</text>
<text x="1320.2" y="841" text-anchor="middle" class="ax">29</text>
<text x="1355.4" y="841" text-anchor="middle" class="ax">30</text>
<text x="1390.7" y="841" text-anchor="middle" class="ax">31</text>
</svg>

<div class="tip">
  <div class="t" id="tTip">March , 20</div>
  <div class="sep"></div>
  <div class="d" style="top:35.4px;background:#82b8da"></div><div class="v" style="top:30px">209</div>
  <div class="d" style="top:55.4px;background:#84b8ad"></div><div class="v" style="top:50px">127</div>
  <div class="d" style="top:75.4px;background:#d98c8e"></div><div class="v" style="top:70px">89</div>
  <div class="d" style="top:95.4px;background:#e8e7c6"></div><div class="v" style="top:90px">32</div>
  <div class="d" style="top:115.4px;background:#90c680"></div><div class="v" style="top:110px">28</div>
</div>
</div>
</body>
</html>
